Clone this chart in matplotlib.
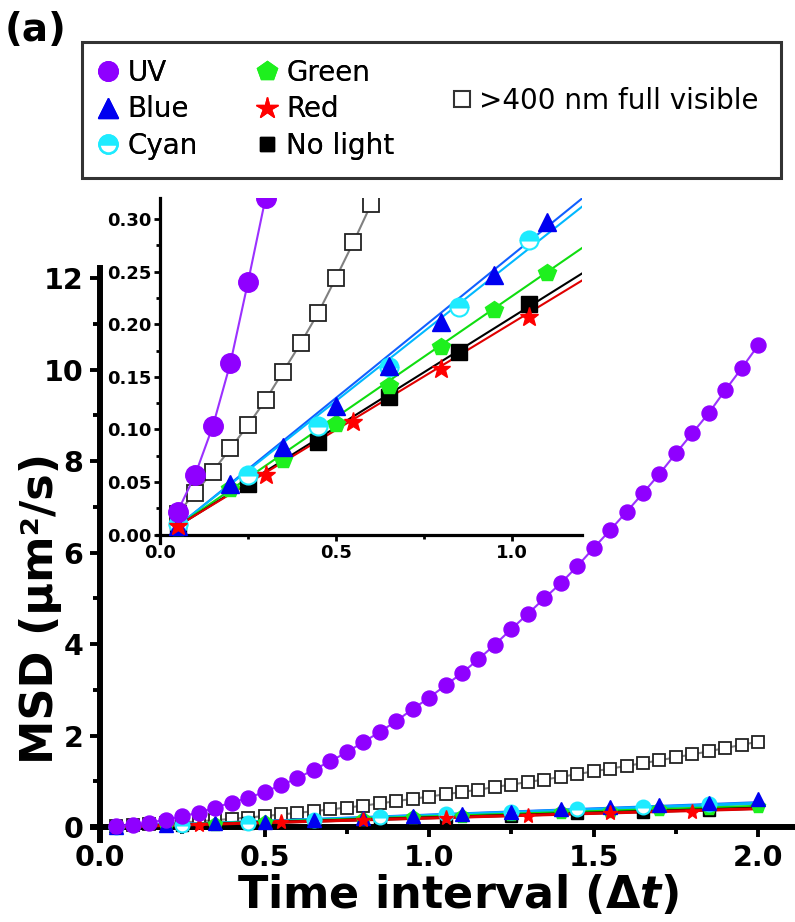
import numpy as np
import matplotlib
matplotlib.use('Agg')
import matplotlib.pyplot as plt
from matplotlib.lines import Line2D
from matplotlib.patches import Rectangle
from matplotlib.ticker import MultipleLocator, FormatStrFormatter

plt.rcParams['font.family'] = ['DejaVu Sans']
plt.rcParams['font.weight'] = 'bold'
plt.rcParams['axes.labelweight'] = 'bold'
plt.rcParams['mathtext.fontset'] = 'custom'
plt.rcParams['mathtext.it'] = 'DejaVu Sans:italic:bold'
plt.rcParams['mathtext.rm'] = 'DejaVu Sans:bold'

# ---------------- data ----------------
uv_x = np.round(np.arange(0.05, 2.001, 0.05), 2)
uv_y = [0.022, 0.057, 0.103, 0.163, 0.240, 0.320, 0.43, 0.54, 0.64, 0.77,
        0.92, 1.07, 1.26, 1.44, 1.64, 1.86, 2.08, 2.32, 2.58, 2.83,
        3.10, 3.37, 3.67, 3.99, 4.33, 4.66, 5.00, 5.33, 5.70, 6.10,
        6.49, 6.89, 7.30, 7.72, 8.17, 8.61, 9.05, 9.55, 10.03, 10.53]

vis_x = np.round(np.arange(0.05, 2.001, 0.05), 2)
vis_y = [0.020, 0.040, 0.060, 0.082, 0.104, 0.128, 0.155, 0.182, 0.211, 0.244,
         0.278, 0.314, 0.35, 0.39, 0.43, 0.47, 0.52, 0.57, 0.62, 0.67,
         0.72, 0.77, 0.82, 0.88, 0.93, 0.99, 1.04, 1.10, 1.16, 1.22,
         1.28, 1.34, 1.40, 1.46, 1.53, 1.59, 1.66, 1.73, 1.80, 1.87]

blue_x = np.round(np.arange(0.05, 2.001, 0.15), 2)
blue_y = [0.008, 0.048, 0.083, 0.122, 0.160, 0.202, 0.247, 0.297, 0.33, 0.40,
          0.44, 0.49, 0.53, 0.62]

green_x = np.round(np.arange(0.05, 2.001, 0.15), 2)
green_y = [0.006, 0.043, 0.071, 0.105, 0.141, 0.178, 0.214, 0.249, 0.29, 0.33,
           0.36, 0.40, 0.43, 0.46]

cyan_x = np.round(np.arange(0.05, 1.901, 0.2), 2)
cyan_y = [0.010, 0.057, 0.103, 0.159, 0.216, 0.280, 0.33, 0.40, 0.45, 0.50]

nolight_x = np.round(np.arange(0.05, 1.901, 0.2), 2)
nolight_y = [0.008, 0.048, 0.088, 0.131, 0.174, 0.219, 0.25, 0.30, 0.33, 0.38]

red_x = np.round(np.arange(0.05, 1.801, 0.25), 2)
red_y = [0.008, 0.057, 0.107, 0.157, 0.207, 0.25, 0.30, 0.34]

# linear fits (slope, intercept)
fit_names = ['Blue', 'Cyan', 'Green', 'No light', 'Red']
fit_slope = [0.271, 0.264, 0.230, 0.209, 0.203]
fit_icpt = [-0.0056, -0.005, -0.0035, -0.0025, -0.002]
fit_range = [0.05, 2.0]

legend_labels = ['UV', 'Blue', 'Cyan', 'Green', 'Red', 'No light', '>400 nm full visible']

# ---------------- styles ----------------
C_UV = '#8F00FF'
C_UVL = '#9B30FF'
C_BLUE = '#0000F0'
C_CYAN = '#1EEBFF'
C_GREEN = '#1EF01E'
C_RED = '#FF0000'
C_BLACK = '#000000'
fit_colors = ['#1060FF', '#00B8FF', '#10DD10', '#000000', '#E00000']

fig = plt.figure(figsize=(7.95, 9.22), dpi=100)

def draw(ax, scale, lw_fit):
    s = scale
    for m, b, c in zip(fit_slope, fit_icpt, fit_colors):
        xx = np.array(fit_range)
        ax.plot(xx, b + m * xx, color=c, lw=lw_fit, zorder=3)
    ax.plot(vis_x, vis_y, color='#808080', lw=1.5, zorder=2)
    ax.plot(vis_x, vis_y, ls='none', marker='s', ms=8.6 * s, mfc='white',
            mec='#222222', mew=1.3, zorder=2.5)
    ax.plot(nolight_x, nolight_y, ls='none', marker='s', ms=8.5 * s,
            mfc=C_BLACK, mec=C_BLACK, zorder=4)
    ax.plot(green_x, green_y, ls='none', marker='p', ms=10 * s,
            mfc=C_GREEN, mec=C_GREEN, zorder=4)
    ax.plot(cyan_x, cyan_y, ls='none', marker='o', ms=10 * s, fillstyle='top',
            mfc=C_CYAN, mfcalt='white', mec=C_CYAN, mew=1.5, zorder=4)
    ax.plot(blue_x, blue_y, ls='none', marker='^', ms=10 * s,
            mfc=C_BLUE, mec=C_BLUE, zorder=4)
    ax.plot(red_x, red_y, ls='none', marker='*', ms=11 * s,
            mfc=C_RED, mec=C_RED, zorder=5)
    ax.plot(uv_x, uv_y, color=C_UVL, lw=1.5, marker='o', ms=10.8 * s,
            mfc=C_UV, mec=C_UV, zorder=6)

# ---------------- main axes ----------------
ax = fig.add_axes([0.1175, 0.0889, 0.880, 0.6204])
ax.set_facecolor('none')
draw(ax, 1.0, 2.2)
ax.set_xlim(-0.02, 2.106)
ax.set_ylim(-0.28, 12.22)
for sp in ['top', 'right']:
    ax.spines[sp].set_visible(False)
ax.spines['left'].set_position(('data', 0))
ax.spines['bottom'].set_position(('data', 0))
for sp in ['left', 'bottom']:
    ax.spines[sp].set_linewidth(4.3)
ax.xaxis.set_major_locator(MultipleLocator(0.5))
ax.xaxis.set_minor_locator(MultipleLocator(0.25))
ax.yaxis.set_major_locator(MultipleLocator(2))
ax.yaxis.set_minor_locator(MultipleLocator(1))
ax.xaxis.set_major_formatter(FormatStrFormatter('%.1f'))
ax.yaxis.set_major_formatter(FormatStrFormatter('%d'))
ax.tick_params(which='major', direction='out', length=7, width=2.8,
               labelsize=20.5, pad=5)
ax.tick_params(which='minor', direction='out', length=5, width=2.8)
ax.set_xlabel('Time interval (Δ$t$)', fontsize=32, fontweight='bold')
ax.xaxis.set_label_coords(0.521, -0.058)
ax.set_ylabel('MSD (μm²/s)', fontsize=32, fontweight='bold')
ax.yaxis.set_label_coords(-0.045, 0.405)

# ---------------- inset ----------------
ai = fig.add_axes([0.1969, 0.411, 0.5352, 0.3742])
ai.set_facecolor('none')
draw(ai, 1.3, 1.5)
ai.set_xlim(-0.01, 1.2)
ai.set_ylim(-0.008, 0.32)
for sp in ['top', 'right']:
    ai.spines[sp].set_visible(False)
ai.spines['left'].set_position(('data', 0))
ai.spines['bottom'].set_position(('data', 0))
for sp in ['left', 'bottom']:
    ai.spines[sp].set_linewidth(2.3)
ai.xaxis.set_major_locator(MultipleLocator(0.5))
ai.xaxis.set_minor_locator(MultipleLocator(0.25))
ai.yaxis.set_major_locator(MultipleLocator(0.05))
ai.yaxis.set_minor_locator(MultipleLocator(0.025))
ai.xaxis.set_major_formatter(FormatStrFormatter('%.1f'))
ai.yaxis.set_major_formatter(FormatStrFormatter('%.2f'))
ai.tick_params(which='major', direction='out', length=4.5, width=2,
               labelsize=13, pad=2)
ai.tick_params(which='minor', direction='out', length=3, width=2)

# ---------------- legend ----------------
h_uv = Line2D([], [], ls='none', marker='o', ms=14, mfc=C_UV, mec=C_UV)
h_blue = Line2D([], [], ls='none', marker='^', ms=14, mfc=C_BLUE, mec=C_BLUE)
h_cyan = Line2D([], [], ls='none', marker='o', ms=13, fillstyle='top',
                mfc=C_CYAN, mfcalt='white', mec=C_CYAN, mew=1.8)
h_green = Line2D([], [], ls='none', marker='p', ms=15, mfc=C_GREEN, mec=C_GREEN)
h_red = Line2D([], [], ls='none', marker='*', ms=16, mfc=C_RED, mec=C_RED)
h_nl = Line2D([], [], ls='none', marker='s', ms=10, mfc=C_BLACK, mec=C_BLACK)
h_vis = Line2D([], [], ls='none', marker='s', ms=11.5, mfc='white',
               mec='#333333', mew=1.5)

leg1 = fig.legend(handles=[h_uv, h_blue, h_cyan, h_green, h_red, h_nl],
                  labels=legend_labels[:6], ncol=2, loc='upper left',
                  bbox_to_anchor=(0.118, 0.936), frameon=False,
                  prop=dict(size=20, weight='normal'), handlelength=1.0,
                  handletextpad=0.2, columnspacing=2.0, labelspacing=0.30,
                  borderpad=0, borderaxespad=0)
leg2 = fig.legend(handles=[h_vis], labels=legend_labels[6:], loc='center left',
                  bbox_to_anchor=(0.567, 0.8905), frameon=False,
                  prop=dict(size=20, weight='normal'), handlelength=0.8,
                  handletextpad=0.2, borderpad=0, borderaxespad=0)
fig.add_artist(leg1)

box = Rectangle((82 / 795, 1 - 178 / 922), (781 - 82) / 795, (178 - 42) / 922,
                transform=fig.transFigure, fill=False, ec='#333333', lw=2.2)
fig.add_artist(box)

fig.text(5 / 795, 1 - 30 / 922, '(a)', fontsize=28, fontweight='bold',
         va='center', ha='left')

fig.savefig('out.png', dpi=100)
